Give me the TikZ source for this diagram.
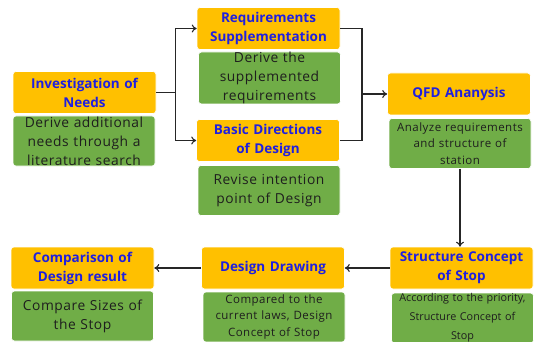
\documentclass[tikz,border=0pt]{standalone}
\usepackage{fontspec}
\setmainfont{Open Sans}
\newfontfamily\widesans[LetterSpace=4]{Open Sans}
\usetikzlibrary{arrows.meta}
\definecolor{boxorange}{HTML}{FFC000}
\definecolor{boxgreen}{HTML}{70AD47}
\definecolor{titleblue}{HTML}{1F1FE0}
\definecolor{bodytext}{HTML}{1E1E1E}
\tikzset{
  headbox/.style={fill=boxorange, draw=white, line width=0.6pt, rounded corners=3pt,
    minimum width=143pt, minimum height=42pt, text width=141pt, align=center,
    inner sep=0pt, text=titleblue, font=\fontsize{13.5}{19}\selectfont\bfseries},
  notebox/.style={fill=boxgreen, draw=white, line width=0.6pt, rounded corners=3pt,
    minimum width=142pt, minimum height=50pt, text width=141pt, align=center,
    inner sep=0pt, text=bodytext, font=\widesans\fontsize{13.8}{19}\selectfont},
  smallnote/.style={notebox, font=\widesans\fontsize{11.5}{16.5}\selectfont},
  tinynote/.style={notebox, font=\fontsize{10.8}{19}\selectfont},
  link/.style={line width=1.1pt, draw=black!85},
  arrowlink/.style={link, -{To[length=5pt,width=8pt]}}
}
\begin{document}
\begin{tikzpicture}[x=1pt,y=-1pt]
\useasboundingbox (0,0) rectangle (535,342);

% first stage
\node[headbox] (inv)  at (84.5,92.5) {Investigation of\\Needs};
\node[notebox] (invd) at (84,141) {Derive additional\\needs through a\\literature search};

% parallel branch
\node[headbox] (req)  at (268.5,28.5) {Requirements\\Supplementation};
\node[notebox, minimum height=52pt] (reqd) at (269.5,78) {Derive the\\supplemented\\requirements};
\node[headbox] (bas)  at (268,140.5) {Basic Directions\\of Design};
\node[notebox] (basd) at (269,190.5) {Revise intention\\point of Design};

% analysis
\node[headbox] (qfd)  at (459,94) {QFD Ananysis};
\node[smallnote] (qfdd) at (460,143.5) {Analyze requirements\\and structure of\\station};

% bottom row
\node[headbox] (str)  at (461.5,268) {Structure Concept\\of Stop};
\node[tinynote] (strd) at (462.5,318) {According to the priority,\\Structure Concept of\\Stop};
\node[headbox] (dd)   at (273,268) {Design Drawing};
\node[smallnote] (ddd) at (274,317) {Compared to the\\current laws, Design\\Concept of Stop};
\node[headbox] (cmp)  at (82.5,268) {Comparison of\\Design result};
\node[notebox] (cmpd) at (82.5,316) {Compare Sizes of\\the Stop};

% split from the first stage
\draw[link] (inv.east) -- ++(19.5,0) coordinate (split);
\draw[arrowlink] (split) |- (req.west);
\draw[arrowlink] (split) |- (bas.west);

% merge into the analysis
\coordinate (merge) at (362,94);
\draw[link] (req.east) -| (merge);
\draw[link] (bas.east) -| (merge);
\draw[arrowlink] (merge) -- (qfd.west);

% down and back along the bottom row
\draw[arrowlink] (qfdd.south) -- (qfdd.south |- str.north);
\draw[arrowlink] (str.west) -- (dd.east);
\draw[arrowlink] (dd.west) -- (cmp.east);
\end{tikzpicture}
\end{document}
